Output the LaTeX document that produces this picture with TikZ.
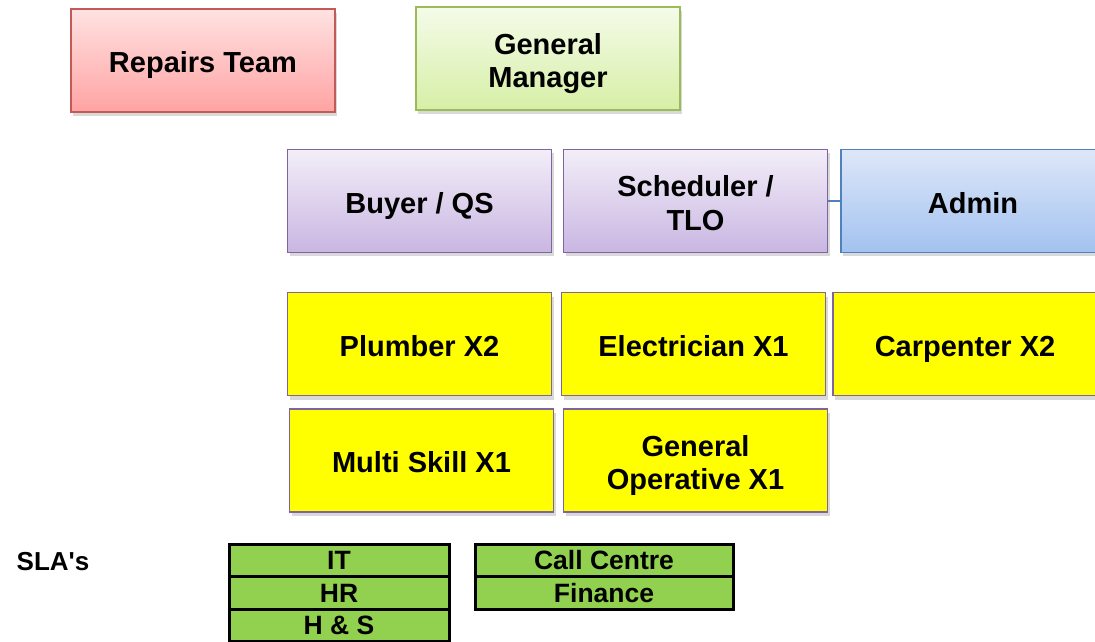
\documentclass[tikz,border=0pt]{standalone}
\usepackage{fontspec}
\setmainfont{Liberation Sans}
\usetikzlibrary{shadows}

\definecolor{redline}{HTML}{C25A58}
\definecolor{greenline}{HTML}{9BBB59}
\definecolor{purpleline}{HTML}{8064A2}
\definecolor{blueline}{HTML}{4F81BD}
\definecolor{slagreen}{HTML}{92D050}
\definecolor{boxyellow}{HTML}{FFFF00}
\definecolor{redtop}{HTML}{FFE2E2}
\definecolor{redbottom}{HTML}{FFA3A3}
\definecolor{greentop}{HTML}{F5FBE9}
\definecolor{greenbottom}{HTML}{D6EFA6}
\definecolor{purpletop}{HTML}{F3EEF8}
\definecolor{purplebottom}{HTML}{C9B6E2}
\definecolor{bluetop}{HTML}{DDE7F8}
\definecolor{bluebottom}{HTML}{A3C2F0}

\begin{document}
\begin{tikzpicture}[x=0.5pt,y=-0.5pt,
  box/.style={rectangle,draw,line width=0.8pt,align=center,inner sep=0pt,
    minimum width=132pt,minimum height=51.5pt,text height=15.45pt,text depth=3pt,
    font=\fontsize{14.5}{16.7}\selectfont\bfseries,
    drop shadow={opacity=0.3,shadow xshift=1pt,shadow yshift=-2pt}},
  two lines/.style={text height=32.15pt},
  red node/.style={box,draw=redline,top color=redtop,bottom color=redbottom},
  green node/.style={box,draw=greenline,top color=greentop,bottom color=greenbottom},
  purple node/.style={box,draw=purpleline,top color=purpletop,bottom color=purplebottom},
  blue node/.style={box,draw=blueline,top color=bluetop,bottom color=bluebottom},
  yellow node/.style={box,draw=purpleline,fill=boxyellow},
  sla node/.style={rectangle,draw=black,line width=1.5pt,fill=slagreen,inner sep=0pt,
    minimum height=16.25pt,font=\fontsize{13.25}{15}\selectfont\bfseries}]

  \clip (0,0) rectangle (1095,641);

  \node[red node] (1) at (203,60.5) {Repairs Team};
  \node[green node,two lines] (2) at (548,58.5) {General\\Manager};

  \node[purple node] (3) at (419.5,201) {Buyer / QS};
  \node[purple node,two lines] (4) at (695.5,201) {Scheduler /\\TLO};
  \node[blue node] (5) at (973,201) {Admin};

  \node[yellow node] (6) at (419.5,344) {Plumber X2};
  \node[yellow node] (7) at (693.5,344) {Electrician X1};
  \node[yellow node] (8) at (965,344) {Carpenter X2};
  \node[yellow node] (9) at (421.5,460.5) {Multi Skill X1};
  \node[yellow node,two lines] (10) at (695.5,460.5) {General\\Operative X1};

  \path[draw=blueline,line width=0.8pt]
    (4) edge (5)
    ;

  \node[font=\fontsize{13}{15}\selectfont\bfseries] (sla) at (53,562) {SLA\textquotesingle s};

  \node[sla node,minimum width=110pt] (it) at (339,560.5) {IT};
  \node[sla node,minimum width=110pt] (hr) at (339,593) {HR};
  \node[sla node,minimum width=110pt] (hs) at (339,625.5) {H \& S};
  \node[sla node,minimum width=129pt] (cc) at (604,560.5) {Call Centre};
  \node[sla node,minimum width=129pt] (fin) at (604,593) {Finance};

\end{tikzpicture}
\end{document}
